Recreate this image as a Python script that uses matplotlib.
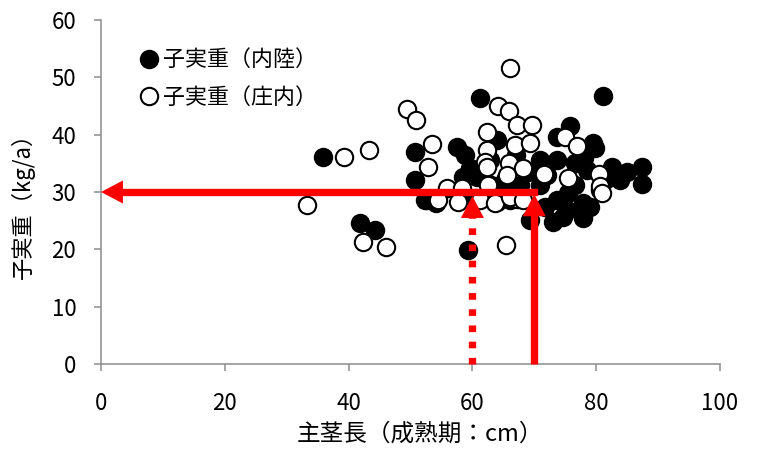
import matplotlib
matplotlib.use("Agg")
import matplotlib.pyplot as plt

plt.rcParams['font.family'] = ['Noto Sans CJK JP', 'DejaVu Sans']

# 子実重（内陸）
inland_x = [35.9, 41.8, 44.3, 50.7, 50.7, 52.7, 54.1, 57.5, 58.8, 59.6, 58.5, 60.7, 59.3,
            61.2, 64.0, 62.8, 63.0, 64.5, 65.3, 66.0, 67.7, 69.3, 70.9, 70.9, 71.7, 73.0,
            73.7, 73.7, 73.7, 74.6, 75.3, 75.8, 75.4, 76.6, 76.6, 77.9, 77.9, 78.5, 79.0,
            79.5, 79.8, 81.1, 80.6, 81.4, 82.5, 83.8, 85.0, 87.4, 87.4, 72.0, 60.5, 67.0,
            69.0, 78.0, 52.3]
inland_y = [36.1, 24.6, 23.4, 37.0, 32.1, 28.6, 28.1, 37.8, 36.5, 34.2, 32.6, 32.6, 19.9,
            46.4, 39.1, 35.6, 31.2, 29.5, 32.1, 28.6, 31.2, 25.1, 35.6, 31.2, 27.4, 24.8,
            39.6, 35.6, 28.6, 25.6, 26.9, 41.5, 29.8, 35.1, 31.2, 28.1, 25.5, 33.8, 27.4,
            38.5, 37.7, 46.7, 30.4, 32.1, 34.4, 32.1, 33.5, 34.4, 31.4, 33.0, 29.0, 36.5,
            33.5, 36.0, 28.6]

# 子実重（庄内）
shonai_x = [33.3, 39.3, 43.3, 42.3, 46.0, 49.4, 50.9, 53.5, 52.8, 55.9, 58.3, 54.4, 57.7,
            61.2, 64.0, 62.5, 62.4, 62.4, 62.0, 62.4, 64.1, 65.9, 66.1, 67.2, 69.6, 66.9,
            69.3, 75.0, 76.9, 65.9, 68.2, 71.6, 75.4, 80.5, 80.6, 80.9, 63.7, 67.2, 65.4,
            65.6, 66.1, 68.2]
shonai_y = [27.7, 36.1, 37.3, 21.3, 20.4, 44.5, 42.6, 38.4, 34.4, 30.7, 30.7, 28.6, 28.3,
            28.6, 28.3, 31.2, 40.5, 37.3, 35.2, 34.4, 45.0, 44.1, 51.6, 41.7, 41.7, 38.2,
            38.5, 39.6, 38.0, 35.1, 34.2, 33.1, 32.4, 33.1, 31.0, 29.8, 28.1, 28.8, 20.8,
            33.0, 29.1, 28.6]

# guide arrows
target_y = 30
x_solid = 70
x_dotted = 60

x_ticks = [0, 20, 40, 60, 80, 100]
y_ticks = [0, 10, 20, 30, 40, 50, 60]

fig = plt.figure(figsize=(7.62, 4.58), dpi=100)
ax = fig.add_axes([101/762, 1-364/458, 619/762, 344/458])

ax.plot(inland_x, inland_y, 'o', ms=12.5, mfc='black', mec='black', mew=1.5,
        ls='none', label='子実重（内陸）', zorder=3)
ax.plot(shonai_x, shonai_y, 'o', ms=12.5, mfc='white', mec='black', mew=1.5,
        ls='none', label='子実重（庄内）', zorder=3)

red = '#ff0000'
lw = 5.3
head = 'simple,head_length=15.8,head_width=16.6,tail_width=0.01'
# horizontal arrow
ax.plot([x_solid, 2], [target_y, target_y], color=red, lw=lw,
        solid_capstyle='projecting', zorder=5, clip_on=False)
ax.annotate('', xy=(0, target_y), xytext=(5, target_y),
            arrowprops=dict(arrowstyle=head, mutation_scale=1, lw=0, fc=red,
                            ec='none', shrinkA=0, shrinkB=0),
            zorder=6, annotation_clip=False)
# vertical solid arrow
ax.plot([x_solid, x_solid], [0, 27], color=red, lw=lw, solid_capstyle='butt',
        zorder=5, clip_on=False)
ax.annotate('', xy=(x_solid, 29.6), xytext=(x_solid, 25),
            arrowprops=dict(arrowstyle=head, mutation_scale=1, lw=0, fc=red,
                            ec='none', shrinkA=0, shrinkB=0),
            zorder=6, annotation_clip=False)
# vertical dotted arrow
ax.plot([x_dotted, x_dotted], [0, 26.5], color=red, lw=lw, ls=(0, (0.9, 1.3)),
        dash_capstyle='butt', zorder=5, clip_on=False)
ax.annotate('', xy=(x_dotted, 29.3), xytext=(x_dotted, 25),
            arrowprops=dict(arrowstyle=head, mutation_scale=1, lw=0, fc=red,
                            ec='none', shrinkA=0, shrinkB=0),
            zorder=6, annotation_clip=False)

ax.set_xlim(0, 100)
ax.set_ylim(0, 60)
ax.set_xticks(x_ticks)
ax.set_yticks(y_ticks)
for s in ['top', 'right']:
    ax.spines[s].set_visible(False)
for s in ['left', 'bottom']:
    ax.spines[s].set_color('#8c8c8c')
    ax.spines[s].set_linewidth(1.1)
ax.tick_params(axis='both', direction='out', length=4.8, width=1.1, color='#8c8c8c',
               labelsize=16, labelcolor='black')
ax.tick_params(axis='x', pad=15)
ax.tick_params(axis='y', pad=13)

ax.set_xlabel('主茎長（成熟期：cm）', fontsize=17, va='center')
ax.xaxis.set_label_coords(0.515, -0.205)
ax.set_ylabel('子実重（kg/a）', fontsize=16, va='center')
ax.yaxis.set_label_coords(-0.126, 0.477)

leg = ax.legend(loc='upper left', bbox_to_anchor=(0.06, 0.915), frameon=False,
                fontsize=15.8, handlelength=1.0, handletextpad=0.15,
                labelspacing=0.7, borderpad=0, borderaxespad=0, markerscale=1.0)

fig.savefig('out.png', dpi=100)
